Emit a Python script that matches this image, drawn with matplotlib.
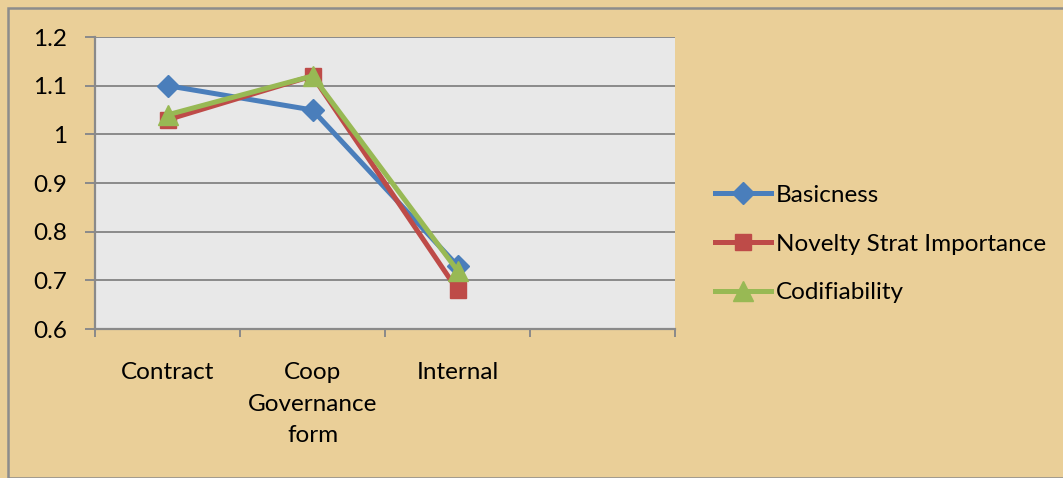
import matplotlib
matplotlib.use("Agg")
import matplotlib.pyplot as plt
from matplotlib.patches import Rectangle
from matplotlib.lines import Line2D

categories = ["Contract", "Coop\nGovernance\nform", "Internal"]
n_slots = 4  # axis has an empty fourth category slot
series_names = ["Basicness", "Novelty Strat Importance", "Codifiability"]
basicness = [1.10, 1.05, 0.73]
novelty = [1.03, 1.12, 0.68]
codifiability = [1.04, 1.12, 0.72]
y_ticks = [0.6, 0.7, 0.8, 0.9, 1.0, 1.1, 1.2]
y_labels = ["0.6", "0.7", "0.8", "0.9", "1", "1.1", "1.2"]

colors = ["#4A7EBB", "#BE4B48", "#98B954"]
markers = ["D", "s", "^"]
msizes = [11, 12, 14]
lw = 3.6

plt.rcParams['font.family'] = ['Lato', 'DejaVu Sans']
W, H = 1063, 478
fig = plt.figure(figsize=(W / 100, H / 100), dpi=100)
fig.patch.set_facecolor("#EACF98")

# outer frame
fig.patches.append(Rectangle((8 / W, 0), 1 - 8 / W + 0.01, 1 - 8 / H, transform=fig.transFigure,
                             fill=False, edgecolor="#8C8C8C", linewidth=1.8))

ax = fig.add_axes([95 / W, 1 - 329 / H, (675 - 95) / W, (329 - 37) / H])
ax.set_facecolor("#E8E8E8")

xs = list(range(len(categories)))
for vals, name, c, m, ms, z in zip([basicness, novelty, codifiability], series_names,
                                   colors, markers, msizes, [3, 4, 5]):
    ax.plot(xs, vals, color=c, linewidth=lw, marker=m, markersize=ms,
            markeredgecolor=c, markerfacecolor=c, label=name, zorder=z, clip_on=False)

ax.set_xlim(-0.5, n_slots - 0.5)
ax.set_ylim(0.6, 1.2)
ax.set_yticks(y_ticks)
ax.set_yticklabels(y_labels)
ax.yaxis.grid(True, color="#8A8A8A", linewidth=1.4)
ax.set_axisbelow(True)

ax.set_xticks(xs)
ax.set_xticklabels(categories, linespacing=1.6, va="top")
ax.set_xticks([i - 0.5 for i in range(n_slots + 1)], minor=True)
ax.tick_params(axis="x", which="major", length=0, pad=24, labelsize=17.5)
ax.tick_params(axis="x", which="minor", length=6, width=1.4, color="#8A8A8A", direction="out")
ax.tick_params(axis="y", length=7, width=1.4, color="#8A8A8A", pad=13, labelsize=17.5)

for s in ["top", "right"]:
    ax.spines[s].set_visible(False)
for s in ["left", "bottom"]:
    ax.spines[s].set_color("#8A8A8A")
    ax.spines[s].set_linewidth(1.6)

handles = [Line2D([0], [0], color=c, linewidth=lw, marker=m, markersize=ms,
                  markeredgecolor=c, markerfacecolor=c)
           for c, m, ms in zip(colors, markers, msizes)]
leg = fig.legend(handles, series_names, loc="center left",
                 bbox_to_anchor=(693 / W, 1 - 244 / H), frameon=False,
                 fontsize=17.5, handlelength=2.3, handletextpad=0.2, labelspacing=1.15)

fig.savefig("out.png", dpi=100, facecolor=fig.get_facecolor())
